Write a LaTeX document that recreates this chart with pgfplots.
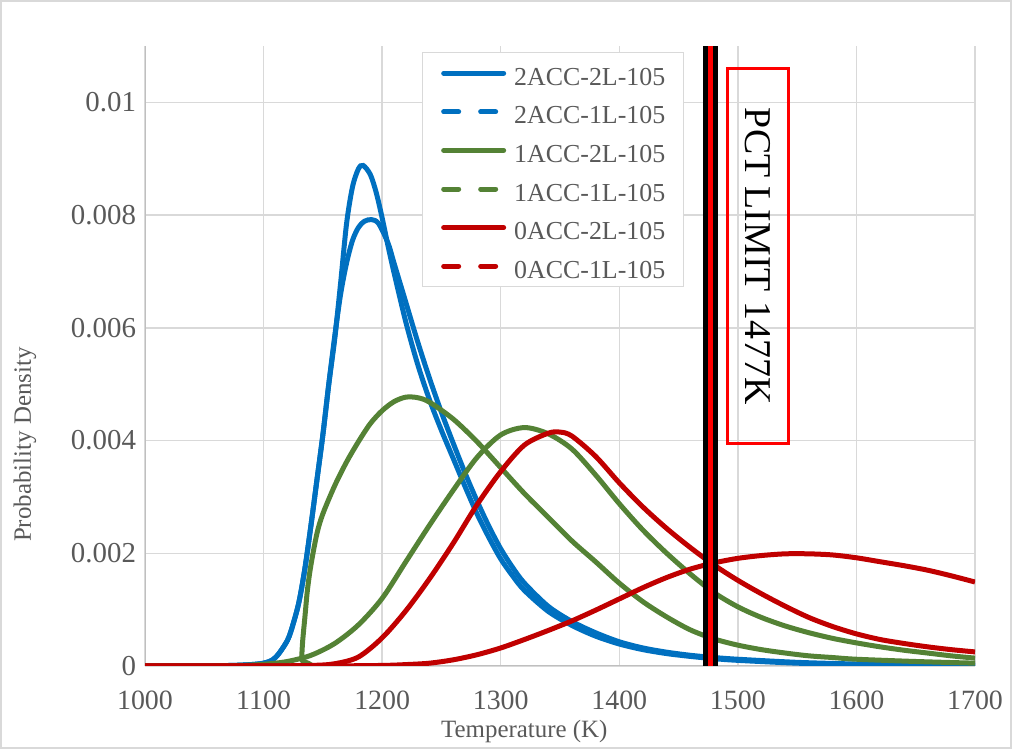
\documentclass[border=0pt]{standalone}
\usepackage{fontspec}
\setmainfont{Liberation Serif}
\usepackage{pgfplots}
\usepackage{pgfplotstable}
\pgfplotsset{compat=1.18}

\definecolor{cblue}{HTML}{0070C0}
\definecolor{cgreen}{HTML}{548235}
\definecolor{cred}{HTML}{C00000}
\definecolor{txt}{HTML}{595959}
\definecolor{gridc}{HTML}{D9D9D9}
\definecolor{axc}{HTML}{BFBFBF}

% 2ACC-2L-105
\pgfplotstableread{
T f
1000 0
1050 0.000003
1080 0.000015
1100 0.00005
1110 0.00015
1120 0.00045
1125 0.00075
1130 0.00115
1135 0.00175
1140 0.0025
1145 0.0033
1150 0.0041
1155 0.0050
1160 0.0058
1165 0.0068
1170 0.00785
1175 0.0085
1180 0.00882
1184 0.00888
1190 0.00872
1195 0.0084
1200 0.00795
1205 0.00745
1210 0.00698
1220 0.0061
1230 0.00535
1240 0.00472
1250 0.00418
1260 0.00368
1270 0.00318
1280 0.0027
1290 0.00228
1300 0.0019
1310 0.0016
1320 0.00134
1340 0.00097
1360 0.00072
1380 0.00053
1400 0.00039
1420 0.00029
1440 0.00022
1460 0.00017
1480 0.00013
1500 0.0001
1550 0.00005
1600 0.000025
1650 0.000012
1700 0.000006
}\bA
% 2ACC-1L-105
\pgfplotstableread{
T f
1000 0
1050 0.000003
1080 0.000015
1100 0.00005
1110 0.00015
1120 0.00045
1125 0.00075
1130 0.00115
1135 0.00175
1140 0.0025
1145 0.0033
1150 0.0041
1155 0.0050
1160 0.00585
1165 0.0066
1170 0.00715
1175 0.00755
1180 0.00778
1185 0.00789
1191 0.00792
1197 0.00785
1205 0.0075
1210 0.00715
1220 0.00645
1230 0.00575
1240 0.0051
1250 0.0045
1260 0.00395
1270 0.00342
1280 0.00293
1290 0.00248
1300 0.00208
1310 0.00175
1320 0.00147
1340 0.00106
1360 0.00079
1380 0.00059
1400 0.00043
1420 0.00032
1440 0.000245
1460 0.00019
1480 0.00015
1500 0.00012
1550 0.000065
1600 0.000035
1650 0.000018
1700 0.00001
}\bB
% 1ACC-2L-105
\pgfplotstableread{
T f
1000 0
1131 0
1132 0.00012
1133 0.00045
1135 0.0009
1137 0.00135
1140 0.0018
1145 0.00235
1150 0.0027
1160 0.0032
1170 0.00362
1180 0.00398
1190 0.0043
1200 0.00453
1210 0.00469
1220 0.00477
1230 0.00476
1240 0.00468
1260 0.00438
1280 0.00398
1300 0.00352
1320 0.00306
1340 0.00264
1360 0.00222
1380 0.00185
1400 0.00147
1420 0.00114
1440 0.00087
1460 0.00064
1480 0.00048
1500 0.00037
1520 0.00029
1540 0.00023
1560 0.00018
1580 0.00015
1600 0.00012
1650 0.00008
1700 0.00005
}\gA
% 1ACC-1L-105
\pgfplotstableread{
T f
1000 0
1050 0.000003
1080 0.00001
1100 0.00003
1120 0.00008
1140 0.00019
1160 0.0004
1180 0.00073
1200 0.0012
1220 0.00185
1240 0.0025
1260 0.00312
1280 0.0037
1300 0.0041
1320 0.00423
1340 0.00412
1360 0.00385
1380 0.00339
1400 0.00288
1420 0.00241
1440 0.002
1460 0.00163
1480 0.0013
1500 0.00105
1520 0.00086
1540 0.00071
1560 0.00059
1580 0.00049
1600 0.00041
1620 0.00034
1640 0.00028
1660 0.00023
1680 0.00018
1700 0.00014
}\gB
% 0ACC-2L-105
\pgfplotstableread{
T f
1000 0
1100 0.000002
1140 0.00001
1160 0.00004
1180 0.00016
1200 0.0005
1220 0.00098
1240 0.00155
1260 0.00218
1280 0.00286
1300 0.00345
1320 0.00392
1340 0.00413
1350 0.00415
1360 0.00408
1380 0.00372
1400 0.00325
1420 0.00282
1440 0.00244
1460 0.0021
1480 0.00179
1500 0.00152
1520 0.00128
1540 0.00106
1560 0.00086
1580 0.0007
1600 0.00057
1620 0.00047
1640 0.0004
1660 0.00034
1680 0.00029
1700 0.00025
}\rA
% 0ACC-1L-105
\pgfplotstableread{
T f
1000 0
1150 0.000002
1200 0.00001
1220 0.000025
1240 0.00005
1260 0.00011
1280 0.0002
1300 0.00032
1320 0.00047
1340 0.00063
1360 0.0008
1380 0.00099
1400 0.00119
1420 0.00139
1440 0.00157
1460 0.00172
1480 0.00183
1500 0.00191
1520 0.00196
1540 0.00199
1560 0.00199
1580 0.00197
1600 0.00192
1620 0.00185
1640 0.00178
1660 0.0017
1680 0.0016
1700 0.00149
}\rB

\begin{document}
\begin{tikzpicture}
\begin{axis}[
  at={(0,0)}, anchor=south west,
  scale only axis, width=415bp, height=310bp,
  xmin=1000, xmax=1700, ymin=0, ymax=0.011,
  xtick={1000,1100,1200,1300,1400,1500,1600,1700},
  xticklabels={1000,1100,1200,1300,1400,1500,1600,1700},
  ytick={0,0.002,0.004,0.006,0.008,0.01},
  yticklabels={0,0.002,0.004,0.006,0.008,0.01},
  scaled y ticks=false,
  major tick length=0pt,
  grid=major, grid style={gridc, line width=0.7bp},
  axis line style={draw=none},
  tick label style={font=\fontsize{14}{16}\selectfont, text=txt},
  xticklabel style={yshift=-9bp},
  yticklabel style={font=\fontsize{14.5}{16}\selectfont, xshift=-1bp},
  xlabel={Temperature (K)}, ylabel={Probability Density},
  label style={font=\fontsize{12.5}{14}\selectfont, text=txt},
  xlabel style={at={(axis description cs:0.457,-0.105)}, anchor=center},
  ylabel style={at={(axis description cs:-0.1446,0.357)}, anchor=center},
  legend style={at={(axis description cs:0.3337,0.9903)}, anchor=north west,
    draw=gridc, line width=0.7bp, fill=white, text=txt,
    font=\fontsize{13}{15}\selectfont,
    inner xsep=9.25bp, inner ysep=3.3bp, row sep=5.4bp, column sep=4bp,
    nodes={inner sep=0pt, text height=13bp, text depth=0.9bp}},
  legend cell align=left,
  legend image code/.code={\draw[#1, line cap=round] (0bp,0bp) -- (30bp,0bp);},
  every axis plot/.append style={line width=2.5bp, smooth, tension=0.5},
]
\draw[axc, line width=0.8bp] (rel axis cs:0,1) -- (rel axis cs:0,0) -- (rel axis cs:1,0);

\addplot[cblue] table {\bA};
\addlegendentry{2ACC-2L-105}
\addplot[cblue, legend image post style={dash pattern=on 7.5bp off 11bp}] table {\bB};
\addlegendentry{2ACC-1L-105}
\addplot[cgreen] table {\gA};
\addlegendentry{1ACC-2L-105}
\addplot[cgreen, legend image post style={dash pattern=on 7.5bp off 11bp}] table {\gB};
\addlegendentry{1ACC-1L-105}
\addplot[cred] table {\rB};
\addlegendentry{0ACC-2L-105}
\addplot[cred, legend image post style={dash pattern=on 7.5bp off 11bp}] table {\rA};
\addlegendentry{0ACC-1L-105}

\addplot[black, line width=7.3bp, sharp plot, forget plot] coordinates {(1477,0) (1477,0.011)};
\addplot[red, line width=2.7bp, sharp plot, forget plot] coordinates {(1477,0) (1477,0.011)};

\draw[red, line width=1.5bp] (axis cs:1491,0.00394) rectangle (axis cs:1543,0.0106);
\node[rotate=-90, font=\fontsize{19}{22}\selectfont, text=black] at (axis cs:1517,0.00727) {PCT LIMIT 1477K};
\end{axis}
\draw[gridc, line width=0.7bp] (-72bp,-41bp) rectangle (433bp,332.5bp);
\pgfresetboundingbox
\useasboundingbox (-72.5bp,-41.5bp) rectangle (433.5bp,333bp);
\end{tikzpicture}
\end{document}
